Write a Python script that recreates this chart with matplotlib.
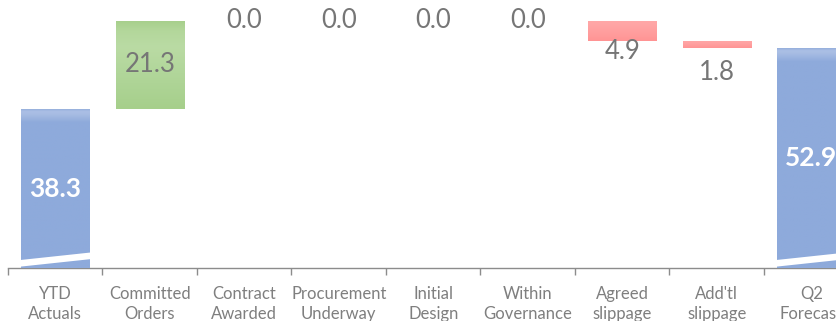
import numpy as np
import matplotlib.pyplot as plt
from matplotlib.colors import to_rgb
from matplotlib.patches import Polygon

plt.rcParams['font.family'] = ['Lato', 'DejaVu Sans']

categories = ['YTD\nActuals', 'Committed\nOrders', 'Contract\nAwarded',
              'Procurement\nUnderway', 'Initial\nDesign', 'Within\nGovernance',
              'Agreed\nslippage', "Add'tl\nslippage", 'Q2\nForecast']
ytd_actuals = 38.3
movements = [21.3, 0.0, 0.0, 0.0, 0.0, -4.9, -1.8]
q2_forecast = 52.9

BLUE = '#8eaadb'
GREEN = '#a9d18e'
RED = '#ff9999'
GREY_TXT = '#767676'

# floating bars: totals start at zero, movements hang off the running total
level = ytd_actuals + np.cumsum(movements)
prev = np.concatenate([[ytd_actuals], level[:-1]])
bottoms = [0.0] + list(np.minimum(prev, level)) + [0.0]
heights = [ytd_actuals] + list(np.abs(movements)) + [q2_forecast]
values = [ytd_actuals] + movements + [q2_forecast]
colors = [BLUE] + [GREEN if m >= 0 else RED for m in movements] + [BLUE]

x = np.arange(len(categories))
w = 0.72

fig = plt.figure(figsize=(8.37, 3.21), dpi=100)
ax = fig.add_axes([8 / 837, 53 / 321, 850.5 / 837, 268 / 321])

bars = ax.bar(x, heights, w, bottom=bottoms, color=colors, zorder=2)


def gradient(patch, stops, n=200):
    # vertical colour ramp laid over a bar and clipped to it; stops are (fraction from top, colour)
    x0, y0 = patch.get_x(), patch.get_y()
    x1, y1 = x0 + patch.get_width(), y0 + patch.get_height()
    if y1 - y0 <= 0:
        return
    f = np.linspace(0, 1, n)
    pos = [s[0] for s in stops]
    rgb = np.array([to_rgb(s[1]) for s in stops])
    img = np.stack([np.interp(f, pos, rgb[:, k]) for k in range(3)], axis=-1)[:, None, :]
    im = ax.imshow(img, extent=(x0, x1, y0, y1), aspect='auto',
                   interpolation='bilinear', zorder=3)
    im.set_clip_path(patch)


ppu = 268 / 64.58  # pixels per data unit
for b, c in zip(bars, colors):
    h = b.get_height()
    if h <= 0:
        continue
    if c == BLUE:
        hp = h * ppu
        gradient(b, [(0, '#98b1dd'), (2 / hp, '#abbfe5'), (5 / hp, '#a7bce3'),
                     (13 / hp, BLUE), (1, BLUE)])
    elif c == GREEN:
        gradient(b, [(0, '#a6cf8b'), (0.12, '#b3d79b'), (0.3, '#badba4'),
                     (0.6, '#b1d69a'), (1, '#a6cf8b')])
    else:
        gradient(b, [(0, '#ffa9a9'), (0.5, '#ffa0a0'), (1, '#ff9494')])

# axis-break slash across the two total bars
for i in (0, len(categories) - 1):
    xl, xr = x[i] - w / 2 - 0.02, x[i] + w / 2 + 0.02
    ax.add_patch(Polygon([(xl, 0.3), (xr, 2.15), (xr, 3.75), (xl, 1.9)],
                         closed=True, facecolor='white', edgecolor='none', zorder=4))

# value labels
label_dy = [0, 0, 0, 0, 0, 0, -7.5, -17.5, 0]
for i, (b, v) in enumerate(zip(bars, values)):
    cx = b.get_x() + b.get_width() / 2
    if i in (0, len(categories) - 1):
        ax.text(cx, b.get_y() + b.get_height() / 2, f'{v:.1f}', ha='center', va='center',
                color='white', fontsize=19, fontweight='bold', zorder=5)
    elif v > 0:
        ax.text(cx, b.get_y() + b.get_height() / 2, f'{v:.1f}', ha='center', va='center',
                color=GREY_TXT, fontsize=18.5, zorder=5)
    elif v == 0:
        ax.text(cx, level[i - 1], f'{abs(v):.1f}', ha='center', va='center',
                color=GREY_TXT, fontsize=18.5, zorder=5)
    else:
        ax.annotate(f'{abs(v):.1f}', (cx, b.get_y()), xytext=(0, label_dy[i]),
                    textcoords='offset points', ha='center', va='center',
                    color=GREY_TXT, fontsize=18.5, zorder=5)

ax.set_xlim(-0.5, len(categories) - 0.5)
ax.set_ylim(0, 64.58)

for s in ('top', 'right', 'left'):
    ax.spines[s].set_visible(False)
ax.spines['bottom'].set_color('#8c8c8c')
ax.spines['bottom'].set_linewidth(1.0)
ax.set_yticks([])

ax.set_xticks(np.arange(-0.5, len(categories)), labels=[])
ax.tick_params(axis='x', which='major', length=5, width=1.0, color='#8c8c8c')
ax.set_xticks(x, labels=categories, minor=True)
ax.tick_params(axis='x', which='minor', length=0, pad=13, labelsize=12, labelcolor='#7f7f7f')
for t in ax.get_xticklabels(minor=True):
    t.set_linespacing(1.32)

fig.savefig('out.png', dpi=100)
